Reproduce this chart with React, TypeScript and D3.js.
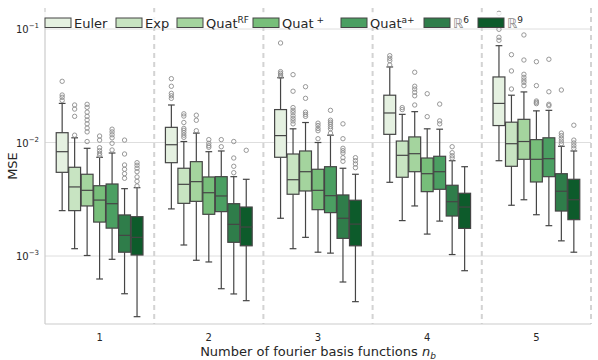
import React, { useEffect, useRef } from "react";
import * as d3 from "d3";

// x categories: number of fourier basis functions
const categories = ["1", "2", "3", "4", "5"];
const methods = ["Euler", "Exp", "QuatRF", "Quat+", "Quata+", "R6", "R9"];
const colors = ["#e5f1e1", "#c8e4c2", "#a4d49e", "#77be7a", "#4b9f62", "#2f7d4a", "#0d5b2b"];

// per category: [whisker low, q1, median, q3, whisker high]
const eulerStats = [
  [0.00251, 0.00546, 0.0083, 0.0122, 0.0221],
  [0.0026, 0.00664, 0.00956, 0.0136, 0.0214],
  [0.00215, 0.00741, 0.0115, 0.0195, 0.0372],
  [0.00446, 0.0118, 0.0182, 0.0261, 0.0463],
  [0.00691, 0.0141, 0.0221, 0.0378, 0.0713],
];
const eulerOutliers = [
  [0.0346, 0.0262, 0.025, 0.0235],
  [0.0365, 0.0313, 0.0271, 0.0258, 0.0245],
  [0.0753, 0.0421, 0.0407, 0.0393, 0.038],
  [0.0582, 0.0552, 0.0526, 0.0482],
  [0.1375, 0.0994, 0.0845, 0.0795],
];
const expStats = [
  [0.00116, 0.00251, 0.00406, 0.00605, 0.011],
  [0.00125, 0.00291, 0.00428, 0.00593, 0.0102],
  [0.00116, 0.0035, 0.0047, 0.00792, 0.0132],
  [0.00205, 0.00494, 0.00771, 0.0103, 0.0177],
  [0.0028, 0.00617, 0.00976, 0.0151, 0.0261],
];
const expOutliers = [
  [0.0214, 0.0197, 0.017, 0.0116],
  [0.0179, 0.0171, 0.015, 0.0133, 0.0128, 0.0122, 0.0116, 0.0111],
  [0.0396, 0.0283, 0.0203, 0.0192, 0.0183, 0.0172, 0.0163, 0.0155, 0.0146],
  [0.0203, 0.0195],
  [0.0594, 0.0427, 0.0296],
];
const quatRFStats = [
  [0.00101, 0.00276, 0.00379, 0.00525, 0.00889],
  [0.000917, 0.00303, 0.00452, 0.00678, 0.0121],
  [0.00146, 0.00374, 0.00553, 0.00842, 0.015],
  [0.00276, 0.00553, 0.00797, 0.0112, 0.0187],
  [0.00313, 0.00711, 0.0102, 0.016, 0.0279],
];
const quatRFOutliers = [
  [0.0217, 0.0204, 0.0185, 0.017, 0.0158, 0.0146, 0.0134, 0.0124, 0.0102],
  [0.0174, 0.0157, 0.0127],
  [0.031, 0.0245, 0.0185, 0.0177, 0.017],
  [0.0416, 0.0313, 0.0296, 0.0277, 0.0258, 0.0214],
  [0.0886, 0.0533, 0.0399, 0.0375, 0.0355, 0.0339, 0.0317],
];
const quatPlusStats = [
  [0.000627, 0.00199, 0.00311, 0.00416, 0.00741],
  [0.000886, 0.00233, 0.00361, 0.00497, 0.0083],
  [0.00108, 0.00256, 0.00379, 0.00581, 0.01],
  [0.00156, 0.00369, 0.00531, 0.0073, 0.0132],
  [0.00231, 0.00449, 0.00711, 0.0106, 0.019],
];
const quatPlusOutliers = [
  [0.0114, 0.0105, 0.009, 0.00847, 0.00803, 0.00771],
  [0.0106, 0.00984, 0.00937, 0.00907],
  [0.0148, 0.0141, 0.0133, 0.0127, 0.0108],
  [0.0269, 0.0169],
  [0.0515, 0.0317, 0.0232, 0.0226, 0.022],
];
const quatAStats = [
  [0.000935, 0.00176, 0.00289, 0.00431, 0.00808],
  [0.000515, 0.00246, 0.00338, 0.005, 0.00842],
  [0.00106, 0.00241, 0.0034, 0.00612, 0.0116],
  [0.00203, 0.00387, 0.00553, 0.00756, 0.0131],
  [0.00185, 0.005, 0.0072, 0.011, 0.0192],
];
const quatAOutliers = [
  [0.0131, 0.0124, 0.0117, 0.011, 0.00984, 0.00859],
  [0.0106, 0.00918],
  [0.0192, 0.0157, 0.0151, 0.0145, 0.0138, 0.0132, 0.0121],
  [0.0218, 0.0155, 0.0146],
  [0.0541, 0.028, 0.0217, 0.0211],
];
const r6Stats = [
  [0.000465, 0.00108, 0.00152, 0.0023, 0.00392],
  [0.000463, 0.00132, 0.0019, 0.00289, 0.005],
  [0.00059, 0.00143, 0.00215, 0.00345, 0.00593],
  [0.00103, 0.00225, 0.00301, 0.0042, 0.00691],
  [0.00136, 0.00249, 0.00372, 0.00531, 0.00926],
];
const r6Outliers = [
  [0.0105, 0.00792, 0.00634, 0.00581, 0.00531, 0.00484],
  [0.0102, 0.0073, 0.00617, 0.00542],
  [0.0146, 0.0108, 0.00889, 0.00847, 0.00808, 0.00735, 0.00683],
  [0.00918, 0.00813, 0.00765, 0.0073],
  [0.029, 0.0121, 0.0115, 0.0109, 0.0103, 0.00976],
];
const r9Stats = [
  [0.000292, 0.00102, 0.00146, 0.00222, 0.004],
  [0.000404, 0.00123, 0.0018, 0.0027, 0.00474],
  [0.000396, 0.00123, 0.00191, 0.0031, 0.00525],
  [0.000742, 0.00175, 0.0027, 0.00357, 0.00612],
  [0.00108, 0.00209, 0.00313, 0.00474, 0.00842],
];
const r9Outliers = [
  [0.00664, 0.0063, 0.00593, 0.00553, 0.00497, 0.00455, 0.00414],
  [0.00854],
  [0.00735, 0.00691, 0.00647, 0.006],
  [],
  [0.0142, 0.0105, 0.0099, 0.00937, 0.00889],
];

const yTicks = [0.1, 0.01, 0.001];
const yTickExp = ["−1", "−2", "−3"];

// legend text: base, superscript, is it the blackboard R
const legendBase = ["Euler", "Exp", "Quat", "Quat", "Quat", "ℝ", "ℝ"];
const legendSup = ["", "", "RF", " +", "a+", "6", "9"];

const allStats = [eulerStats, expStats, quatRFStats, quatPlusStats, quatAStats, r6Stats, r9Stats];
const allOutliers = [eulerOutliers, expOutliers, quatRFOutliers, quatPlusOutliers, quatAOutliers, r6Outliers, r9Outliers];

const W = 598, H = 360;
const left = 45, right = 591, top = 8, bottom = 324;
const legendX = [45, 116, 177, 253, 341, 424, 478];
const font = "DejaVu Sans, Verdana, sans-serif";
const ink = "#262626";
const edge = "#454545";

const App = () => {
  const ref = useRef(null);

  useEffect(() => {
    document.body.style.margin = "0";
    const svg = d3.select(ref.current);
    svg.selectAll("*").remove();

    const x = d3.scaleBand().domain(categories).range([left, right]);
    const bw = x.bandwidth();
    const hue = d3.scaleBand().domain(methods).range([bw * 0.1, bw * 0.9]);
    const y = d3.scaleLog().domain([1e-3, 1e-1]).range([256, 29]);

    svg.append("rect").attr("width", W).attr("height", H).attr("fill", "#fff");

    // grid
    svg.append("g").selectAll("line").data(yTicks).enter().append("line")
      .attr("x1", left).attr("x2", right)
      .attr("y1", d => y(d)).attr("y2", d => y(d))
      .attr("stroke", "#dedede").attr("stroke-width", 1);

    // dashed separators
    svg.append("g").selectAll("line").data(categories).enter().append("line")
      .attr("x1", d => x(d) + bw).attr("x2", d => x(d) + bw)
      .attr("y1", top).attr("y2", bottom)
      .attr("stroke", "#d3d3d3").attr("stroke-width", 2)
      .attr("stroke-dasharray", "5,4");

    // spines
    svg.append("line").attr("x1", left).attr("x2", left).attr("y1", top).attr("y2", bottom)
      .attr("stroke", "#cccccc").attr("stroke-width", 1.2);
    svg.append("line").attr("x1", left).attr("x2", right).attr("y1", bottom).attr("y2", bottom)
      .attr("stroke", "#cccccc").attr("stroke-width", 1.2);

    // boxes
    const boxes = svg.append("g");
    methods.forEach((m, mi) => {
      categories.forEach((c, ci) => {
        const [wl, q1, med, q3, wh] = allStats[mi][ci];
        const x0 = x(c) + hue(m);
        const w = hue.bandwidth();
        const cx = x0 + w / 2;
        const g = boxes.append("g");
        g.append("line").attr("x1", cx).attr("x2", cx).attr("y1", y(q3)).attr("y2", y(wh))
          .attr("stroke", edge).attr("stroke-width", 1.2);
        g.append("line").attr("x1", cx).attr("x2", cx).attr("y1", y(q1)).attr("y2", y(wl))
          .attr("stroke", edge).attr("stroke-width", 1.2);
        [wl, wh].forEach(v => {
          g.append("line").attr("x1", cx - w * 0.27).attr("x2", cx + w * 0.27)
            .attr("y1", y(v)).attr("y2", y(v))
            .attr("stroke", edge).attr("stroke-width", 1.2);
        });
        g.append("rect").attr("x", x0 + 0.3).attr("width", w - 0.6)
          .attr("y", y(q3)).attr("height", y(q1) - y(q3))
          .attr("fill", colors[mi]).attr("stroke", edge).attr("stroke-width", 1.2);
        g.append("line").attr("x1", x0 + 0.3).attr("x2", x0 + w - 0.3)
          .attr("y1", y(med)).attr("y2", y(med))
          .attr("stroke", edge).attr("stroke-width", 1.2);
        g.selectAll("circle").data(allOutliers[mi][ci]).enter().append("circle")
          .attr("cx", cx).attr("cy", d => y(d)).attr("r", 2.2)
          .attr("fill", "none").attr("stroke", "#8c8c8c").attr("stroke-width", 0.9);
      });
    });

    // y ticks
    const yt = svg.append("g").style("font-family", font).attr("fill", ink);
    yTicks.forEach((t, i) => {
      const tx = yt.append("text").attr("x", 39).attr("y", y(t) + 4)
        .attr("text-anchor", "end").style("font-size", "10px");
      tx.append("tspan").text("10");
      tx.append("tspan").attr("dy", -5).style("font-size", "7px").text(yTickExp[i]);
    });

    // x ticks
    svg.append("g").selectAll("text").data(categories).enter().append("text")
      .attr("x", d => x(d) + bw / 2).attr("y", 341)
      .attr("text-anchor", "middle").attr("fill", ink)
      .style("font-family", font).style("font-size", "10px")
      .text(d => d);

    // axis labels
    const xl = svg.append("text").attr("x", (left + right) / 2).attr("y", 356)
      .attr("text-anchor", "middle").attr("fill", ink)
      .style("font-family", font).style("font-size", "13px");
    xl.append("tspan").text("Number of fourier basis functions ");
    xl.append("tspan").style("font-style", "italic").text("n");
    xl.append("tspan").attr("dy", 3).style("font-size", "9px").style("font-style", "italic").text("b");

    svg.append("text").attr("transform", `translate(17,${(top + bottom) / 2}) rotate(-90)`)
      .attr("text-anchor", "middle").attr("fill", ink)
      .style("font-family", font).style("font-size", "13px").text("MSE");

    // legend
    const lg = svg.append("g");
    lg.append("rect").attr("x", 42).attr("y", 12).attr("width", 488).attr("height", 16)
      .attr("fill", "#fff").attr("opacity", 0.8);
    methods.forEach((m, i) => {
      const lx = legendX[i];
      lg.append("rect").attr("x", lx).attr("y", 18).attr("width", 26).attr("height", 9.5)
        .attr("fill", colors[i]).attr("stroke", edge).attr("stroke-width", 1);
      const t = lg.append("text").attr("x", lx + 29).attr("y", 27.5).attr("fill", ink)
        .style("font-family", font).style("font-size", "13px");
      const isR = legendBase[i] === "ℝ";
      t.append("tspan").text(legendBase[i])
        .attr("fill", isR ? "#8a8a8a" : ink)
        .style("font-style", isR ? "italic" : "normal");
      if (legendSup[i]) {
        t.append("tspan").attr("dy", -5).style("font-size", "9px").attr("xml:space", "preserve")
          .text(legendSup[i]);
      }
    });
  }, []);

  return (
    <div style={{ position: "absolute", left: 0, top: 0 }}>
      <svg ref={ref} width={W} height={H}></svg>
    </div>
  );
};

export default App;
